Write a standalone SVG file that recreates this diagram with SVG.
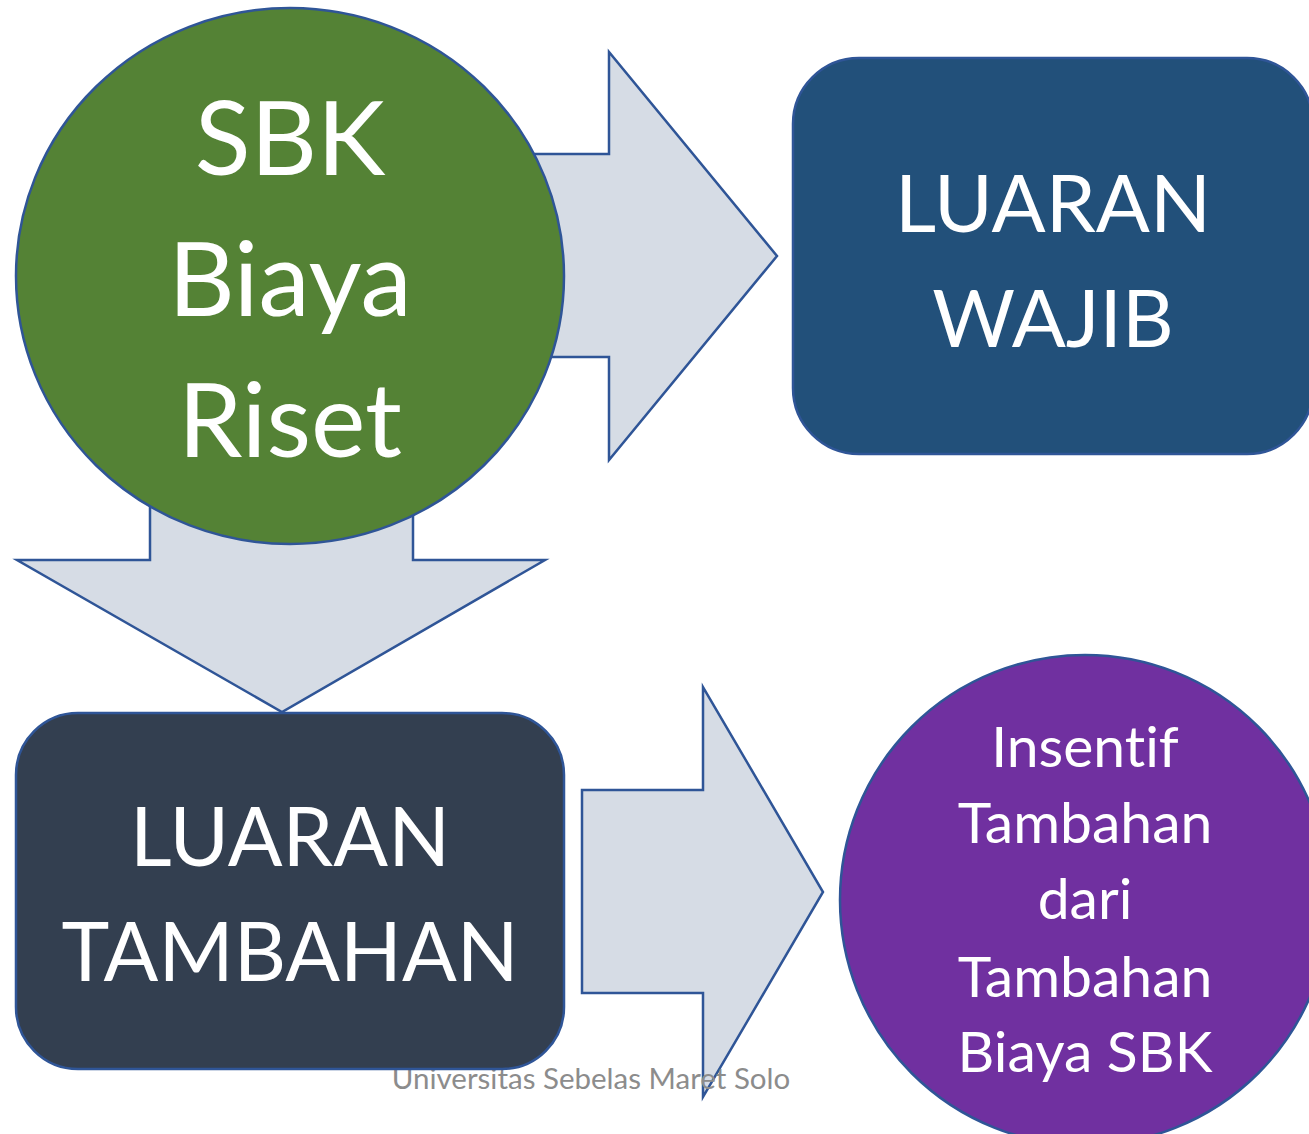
<svg xmlns="http://www.w3.org/2000/svg" width="1309" height="1134" viewBox="0 0 1309 1134">
<style>
.arrow{fill:#D6DCE5;stroke:#2F5597;stroke-width:2.5;stroke-linejoin:miter}
.node{stroke:#2F5597;stroke-width:2.5}
.lbl{font-family:Lato,"Open Sans","Liberation Sans",sans-serif;fill:#FFFFFF;text-anchor:middle;font-variant-ligatures:none}
.wm{font-family:Lato,"Open Sans","Liberation Sans",sans-serif;fill:#8C8C8C;text-anchor:middle;font-size:29.5px;font-variant-ligatures:none}
</style>
<rect x="0" y="0" width="1309" height="1134" fill="#FFFFFF"/>
<g id="connectors">
<polygon class="arrow" points="500,154 609,154 609,52 777,256 609,460 609,357 500,357"/>
<polygon class="arrow" points="150,450 413,450 413,560 545,560 282,712 17,560 150,560"/>
<polygon class="arrow" points="582,790 703,790 703,687 823,892 703,1097 703,993 582,993"/>
</g>
<text class="wm" x="591" y="1089">Universitas Sebelas Maret Solo</text>
<g id="node-sbk">
<ellipse class="node" cx="290" cy="276" rx="274" ry="268" fill="#548235"/>
<text class="lbl" font-size="103"><tspan x="290" y="175">SBK</tspan><tspan x="290" y="316">Biaya</tspan><tspan x="290" y="457">Riset</tspan></text>
</g>
<g id="node-wajib">
<rect class="node" x="793" y="58" width="520" height="396" rx="66" ry="66" fill="#22507A"/>
<text class="lbl" font-size="80"><tspan x="1053" y="232">LUARAN</tspan><tspan x="1053" y="347">WAJIB</tspan></text>
</g>
<g id="node-tambahan">
<rect class="node" x="16" y="713" width="548" height="356" rx="62" ry="62" fill="#333F50"/>
<text class="lbl" font-size="81"><tspan x="290" y="866">LUARAN</tspan><tspan x="290" y="981">TAMBAHAN</tspan></text>
</g>
<g id="node-insentif">
<circle class="node" cx="1085" cy="900" r="245" fill="#7030A0"/>
<text class="lbl" font-size="57"><tspan x="1085" y="767">Insentif</tspan><tspan x="1085" y="843">Tambahan</tspan><tspan x="1085" y="919">dari</tspan><tspan x="1085" y="997">Tambahan</tspan><tspan x="1085" y="1072">Biaya SBK</tspan></text>
</g>
</svg>
